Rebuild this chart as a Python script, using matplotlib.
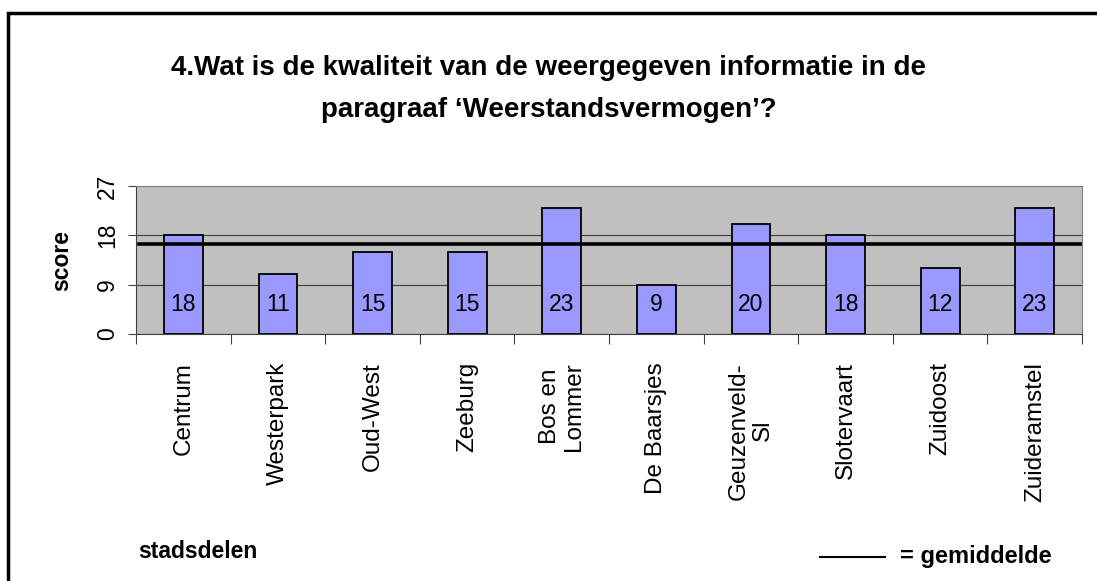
import matplotlib.pyplot as plt
from matplotlib.lines import Line2D
from matplotlib.patches import Rectangle

plt.rcParams['font.family'] = ['Liberation Sans', 'DejaVu Sans']

# data
stadsdelen = ['Centrum', 'Westerpark', 'Oud-West', 'Zeeburg', 'Bos en\nLommer',
              'De Baarsjes', 'Geuzenveld-\nSl', 'Slotervaart', 'Zuidoost', 'Zuideramstel']
scores = [18, 11, 15, 15, 23, 9, 20, 18, 12, 23]
y_ticks = [0, 9, 18, 27]
gemiddelde = sum(scores) / len(scores)

fig = plt.figure(figsize=(10.97, 5.81), dpi=100)
ax = fig.add_axes([0.124, 0.4251, 0.8624, 0.2547])

# outer frame of the chart object
fig.patches.append(Rectangle((8 / 1097, -0.1), 1.2, 1 - 13 / 581 + 0.1,
                             transform=fig.transFigure, fill=False,
                             edgecolor='black', linewidth=2.5, zorder=0))

x = list(range(len(scores)))
ax.set_facecolor('#C0C0C0')
ax.bar(x, scores, width=0.41, color='#9999FF', edgecolor='black', linewidth=1.3, zorder=3)
ax.axhline(gemiddelde, color='black', linewidth=2.6, zorder=4, xmin=0.003, xmax=0.998)

for xi, v in zip(x, scores):
    ax.text(xi, 5.3, str(v), ha='center', va='center', fontsize=16.5, zorder=5)

ax.set_xlim(-0.5, len(scores) - 0.5)
ax.set_ylim(0, 27)
ax.set_yticks(y_ticks)
ax.set_yticklabels([str(t) for t in y_ticks], rotation=90, va='center', fontsize=16.5)
ax.yaxis.grid(True, color='#404040', linewidth=0.8, zorder=1)
ax.set_axisbelow(True)

# category ticks sit between the bars, labels under the bars
ax.set_xticks([i - 0.5 for i in range(len(scores) + 1)])
ax.set_xticklabels([])
ax.set_xticks(x, minor=True)
ax.set_xticklabels(stadsdelen, minor=True, rotation=90, ha='center', va='top',
                   fontsize=17.5, linespacing=1.1)
ax.tick_params(axis='x', which='minor', length=0, pad=20)
ax.tick_params(axis='x', which='major', length=7, color='#404040')
ax.tick_params(axis='y', length=6, pad=6, color='#404040')

for side in ['top', 'right']:
    ax.spines[side].set_color('#808080')
for side in ['left', 'bottom']:
    ax.spines[side].set_color('#404040')

ax.set_ylabel('score', fontsize=16.5, fontweight='bold', labelpad=17)

fig.text(0.5, 1 - 68 / 581, '4.Wat is de kwaliteit van de weergegeven informatie in de',
         ha='center', va='center', fontsize=20, fontweight='bold')
fig.text(0.5, 1 - 110 / 581, 'paragraaf \u2018Weerstandsvermogen\u2019?',
         ha='center', va='center', fontsize=20, fontweight='bold')

fig.text(138 / 1097, 1 - 551 / 581, 'stadsdelen', ha='left', va='center',
         fontsize=16.5, fontweight='bold')
fig.lines.append(Line2D([820 / 1097, 885 / 1097], [1 - 557 / 581, 1 - 557 / 581],
                        transform=fig.transFigure, color='black', linewidth=1.5))
fig.text(900 / 1097, 1 - 556 / 581, '= gemiddelde', ha='left', va='center',
         fontsize=17, fontweight='bold')

fig.savefig('out.png', dpi=100)
